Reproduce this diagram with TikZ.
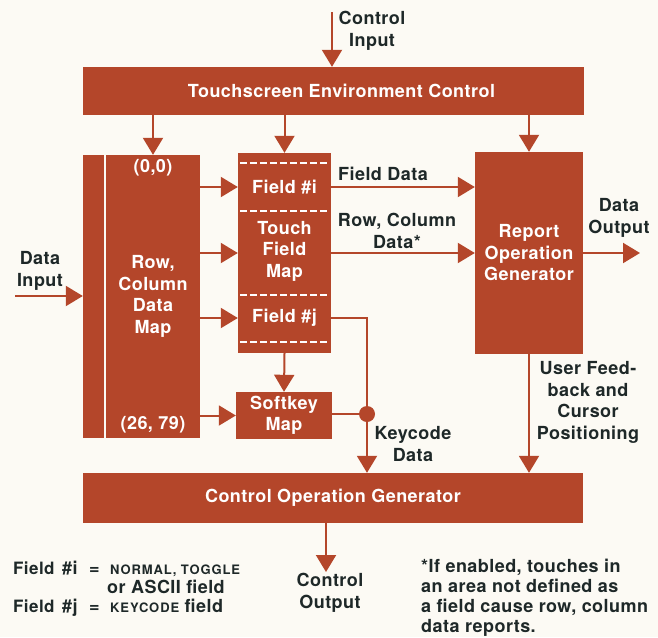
\documentclass[tikz,border=0pt]{standalone}
\usepackage{fontspec}
\setmainfont{TeX Gyre Heros}[LetterSpace=2.5]
\newfontfamily\scfont{TeX Gyre Heros}[LetterSpace=7]
\usetikzlibrary{arrows.meta}
\definecolor{boxc}{RGB}{180,70,42}
\definecolor{txtc}{RGB}{30,40,40}
\definecolor{bgc}{RGB}{252,250,244}
\begin{document}
\begin{tikzpicture}[x=1pt,y=-1pt,
  blk/.style={fill=boxc, draw=none, inner sep=0pt, text=white, font=\bfseries\fontsize{18}{21.5}\selectfont, align=center},
  wl/.style={text=white, font=\bfseries\fontsize{18}{21.5}\selectfont, align=center, inner sep=0pt},
  lbl/.style={text=txtc, font=\bfseries\fontsize{18}{21.5}\selectfont, align=center, inner sep=0pt},
  conn/.style={draw=boxc, line width=2pt},
  arr/.style={conn, -{Triangle[width=20pt,length=17pt]}},
  dsh/.style={draw=white, line width=1.6pt, dash pattern=on 7pt off 3pt},
]
\fill[bgc] (0,0) rectangle (658,637);
\useasboundingbox (0,0) rectangle (658,637);

% blocks
\node[blk, minimum width=501pt, minimum height=48pt] (tec) at (333.5,91) {\hspace*{16pt}Touchscreen Environment Control};
\node[blk, minimum width=21pt, minimum height=283pt] (bar) at (93.5,296.5) {};
\node[blk, minimum width=94pt, minimum height=283pt] (rcm) at (153,296.5) {Row,\\Column\\Data\\Map};
\node[wl] (p00) at (153,168) {(0,0)};
\node[wl] (p2679) at (153,425) {(26, 79)};
\node[blk, minimum width=93pt, minimum height=200pt] (tfm) at (284.5,253) {};
\node[wl] (fi) at (284.5,187) {Field \#i};
\node[wl] (tft) at (284.5,251) {Touch\\Field\\Map};
\node[wl] (fj) at (284.5,318) {Field \#j};
\draw[dsh] (240,163) -- (330,163);
\draw[dsh] (240,211) -- (330,211);
\draw[dsh] (240,295) -- (330,295);
\draw[dsh] (240,342) -- (330,342);
\node[blk, minimum width=96pt, minimum height=47pt] (skm) at (284,415.5) {Softkey\\Map};
\node[blk, minimum width=108pt, minimum height=202pt] (rog) at (529,253) {Report\\Operation\\Generator};
\node[blk, minimum width=500pt, minimum height=50pt] (cog) at (333,498) {Control Operation Generator};
\node[circle, fill=boxc, minimum size=16pt, inner sep=0pt] (dot) at (367,414) {};

% coordinates for free ends
\coordinate (ci) at (332,12);
\coordinate (di) at (15,296);
\coordinate (do) at (640,253);
\coordinate (kj) at (367,318);
\coordinate (co) at (326,572);

% connectors
\draw[arr] (ci) -- (ci |- tec.north);
\draw[arr] (tec.south -| rcm) -- (rcm.north);
\draw[arr] (tec.south -| tfm) -- (tfm.north);
\draw[arr] (tec.south -| rog) -- (rog.north);
\draw[arr] (di) -- (di -| bar.west);
\draw[arr] (rcm.east |- fi) -- (tfm.west |- fi);
\draw[arr] (rcm.east |- rog) -- (tfm.west |- rog);
\draw[arr] (rcm.east |- fj) -- (tfm.west |- fj);
\draw[arr] (rcm.east |- skm) -- (skm.west);
\draw[arr] (tfm.south) -- (skm.north);
\draw[arr] (tfm.east |- fi) -- (rog.west |- fi);
\draw[arr] (tfm.east |- rog) -- (rog.west);
\draw[arr] (rog.east) -- (do);
\draw[conn] (tfm.east |- fj) -- (kj) -- (dot.center);
\draw[conn] (skm.east |- dot) -- (dot.center);
\draw[arr] (dot.center) -- (dot |- cog.north);
\draw[arr] (rog.south) -- (rog.south |- cog.north);
\draw[arr] (cog.south -| co) -- (co);

% labels
\node[lbl] (lci) at (372,31) {Control\\Input};
\node[lbl] (ldi) at (40,271) {Data\\Input};
\node[lbl] (lfd) at (383,174) {Field Data};
\node[lbl] (lrc) at (397,231) {Row, Column\\Data*};
\node[lbl] (ldo) at (619,218) {Data\\Output};
\node[lbl] (luf) at (588,402.5) {User Feed-\\back and\\Cursor\\Positioning};
\node[lbl] (lkd) at (413,444) {Keycode\\Data};
\node[lbl] (lco) at (330,593) {Control\\Output};

% legend
\node[lbl, anchor=base west, font=\bfseries\fontsize{17}{20}\selectfont] (lg1a) at (13,574) {Field};
\node[lbl, anchor=base west] (lg1b) at (62,574) {\#i};
\node[lbl, anchor=base west] (lg1c) at (89,574) {=};
\node[lbl, anchor=base west] (lg1d) at (110,574) {\scfont\fontsize{13}{15}\selectfont NORMAL, TOGGLE};
\node[lbl, anchor=base west] (lg2) at (107,593) {or ASCII field};
\node[lbl, anchor=base west, font=\bfseries\fontsize{17}{20}\selectfont] (lg3a) at (13,612) {Field};
\node[lbl, anchor=base west] (lg3b) at (62,612) {\#j};
\node[lbl, anchor=base west] (lg3c) at (89,612) {=};
\node[lbl, anchor=base west] (lg3d) at (110,612) {{\scfont\fontsize{13}{15}\selectfont KEYCODE} field};
\node[lbl, anchor=north west, align=left, font=\bfseries\fontsize{18}{20}\selectfont] (note) at (421,559) {*If enabled, touches in\\an area not defined as\\a field cause row, column\\data reports.};
\end{tikzpicture}
\end{document}
